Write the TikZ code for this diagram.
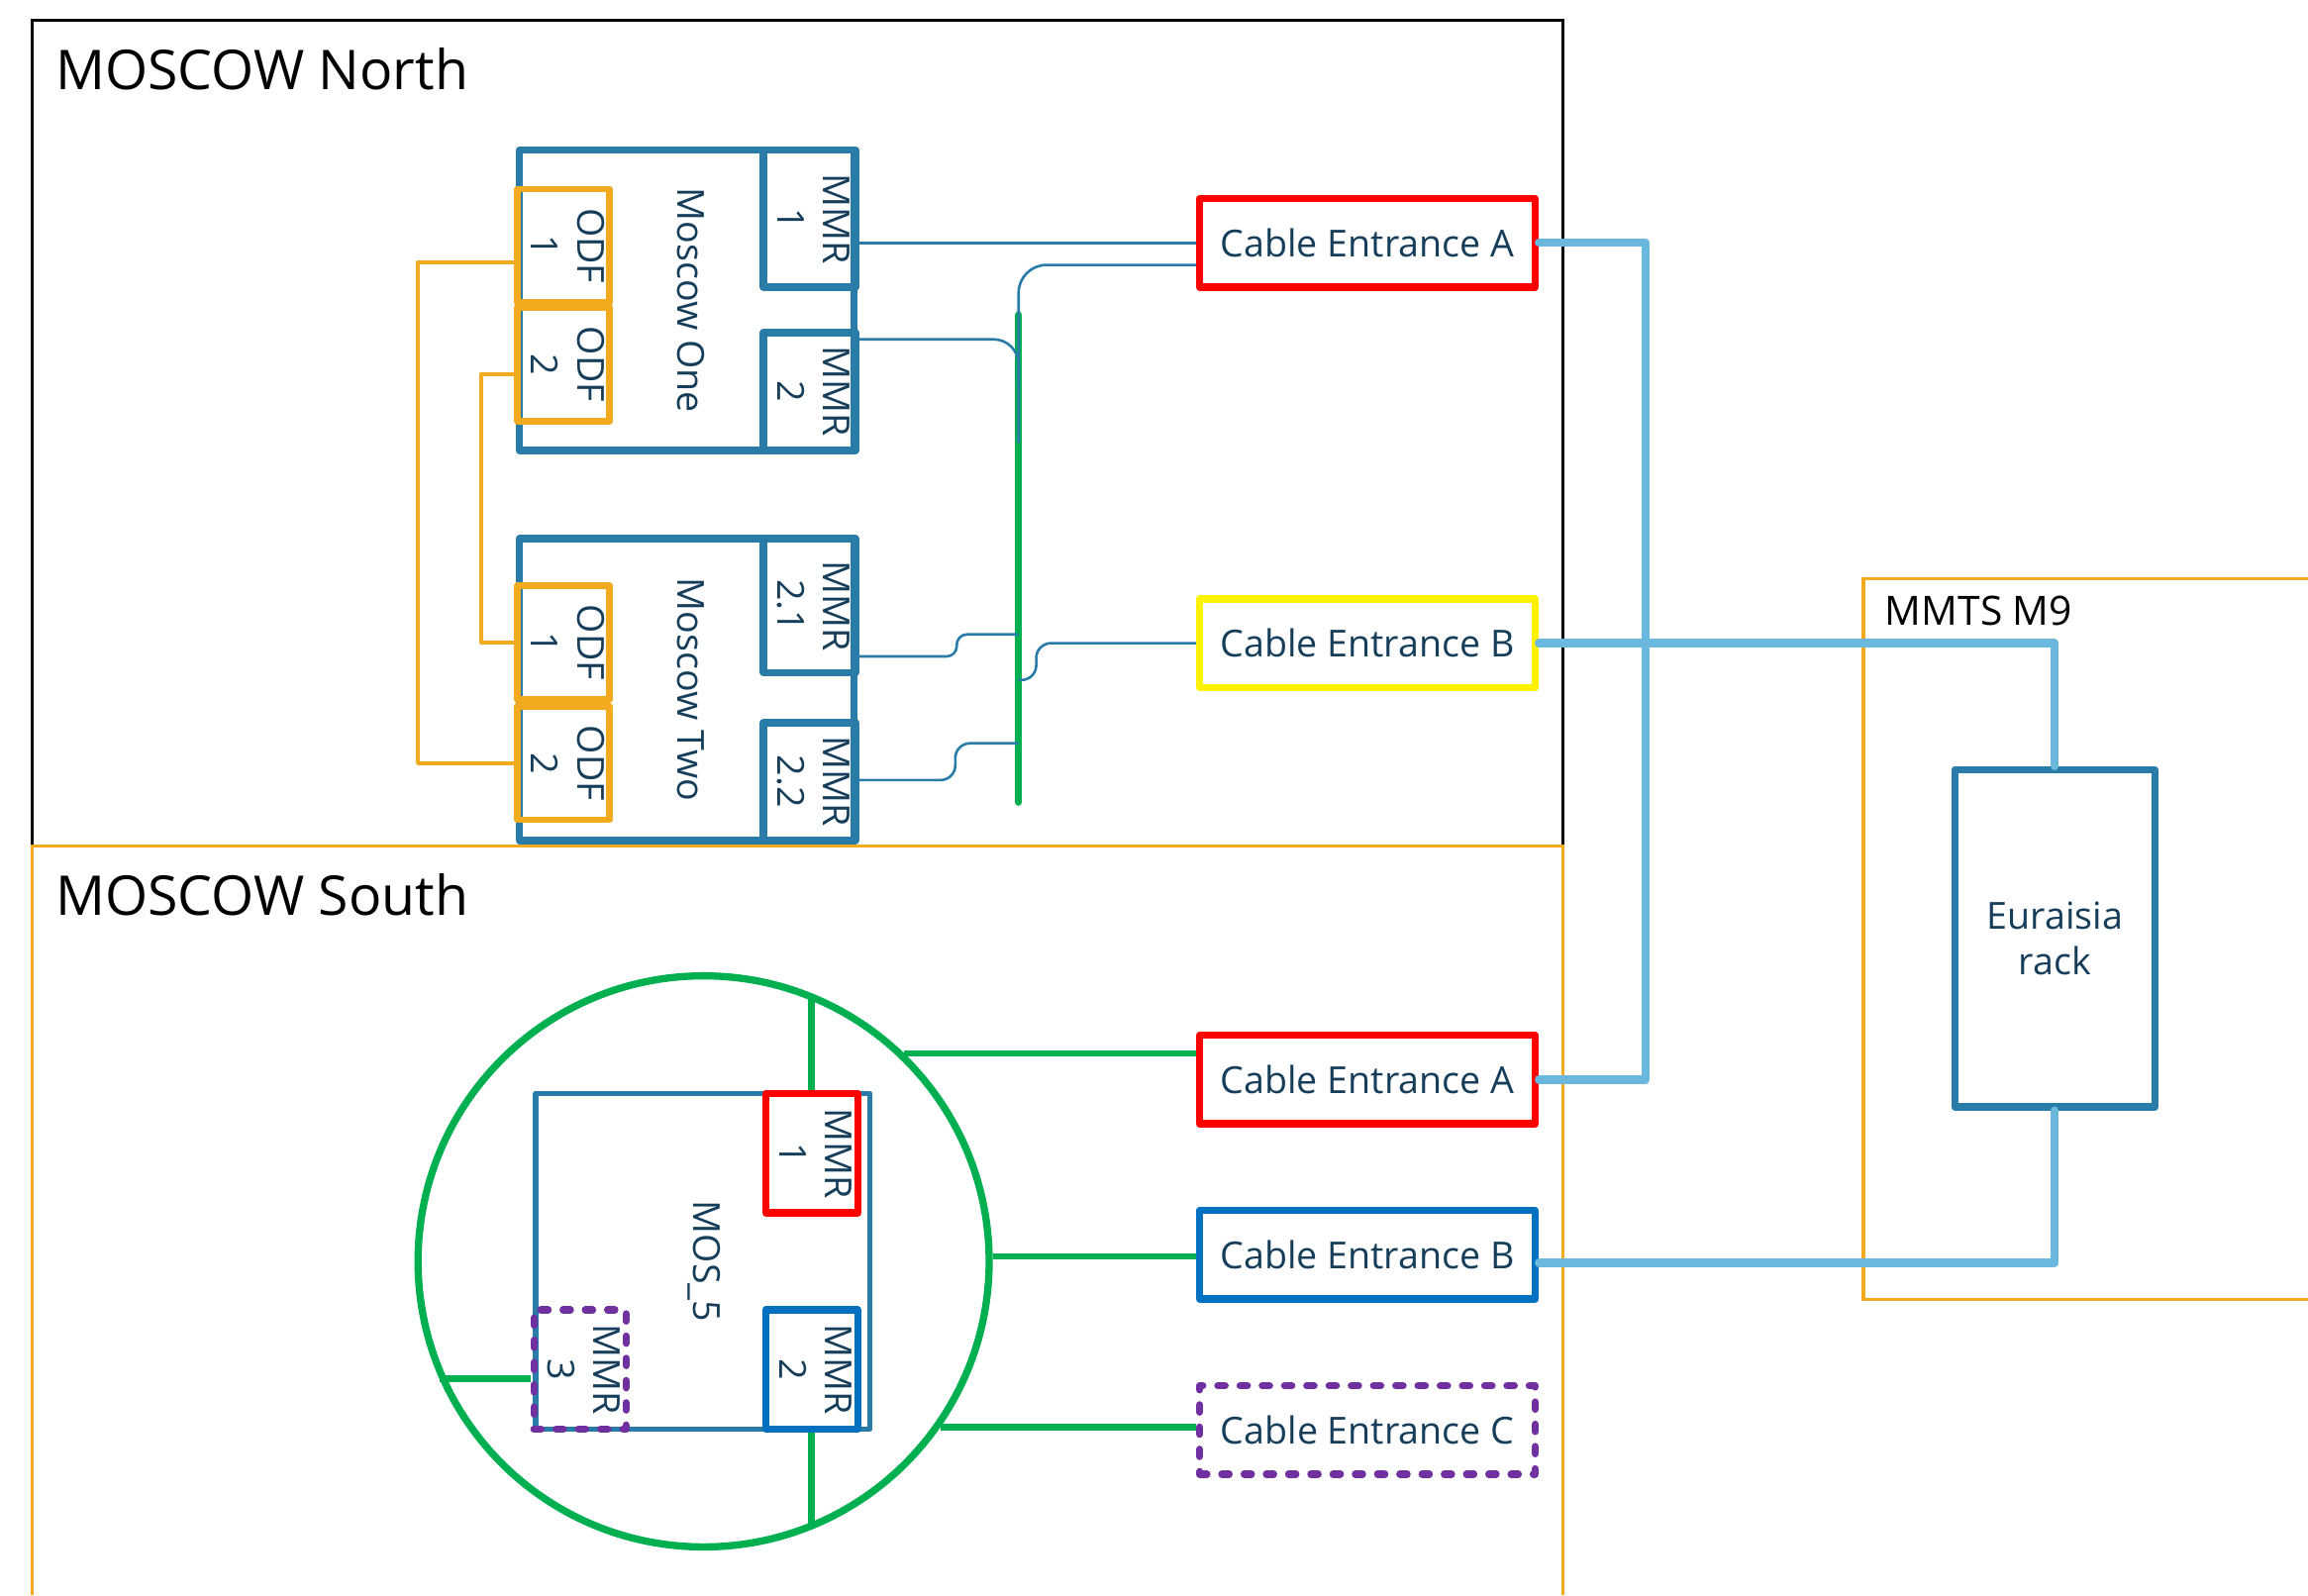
\documentclass[tikz,border=0pt]{standalone}
\usepackage{fontspec}
\setmainfont{Open Sans}
\usepackage{graphicx}
\usetikzlibrary{positioning, calc}

\definecolor{rackblue}{HTML}{2A7CA8}
\definecolor{ink}{HTML}{163E5A}
\definecolor{odforange}{HTML}{F2AB1E}
\definecolor{busgreen}{HTML}{00B050}
\definecolor{fibreblue}{HTML}{6BB8DE}
\definecolor{entblue}{HTML}{0070C0}
\definecolor{entpurple}{HTML}{7030A0}

\newcommand{\rotlabel}[1]{\rotatebox{-90}{\begin{tabular}{@{}c@{}}#1\end{tabular}}}

\begin{document}
\begin{tikzpicture}[x=0.1mm, y=-0.1mm,
    every node/.style={font=\fontsize{7.2}{8.9}\selectfont, text=ink, inner sep=0pt},
    title/.style={font=\fontsize{10.6}{12}\selectfont, text=black, anchor=west},
    cab/.style={draw=rackblue, line width=1.4pt, line join=round},
    odf/.style={draw=odforange, line width=1.3pt, line join=round, minimum width=6mm, minimum height=7.7mm},
    entrance/.style={line width=1.4pt, line join=round, minimum width=22.8mm, minimum height=6mm},
    planned/.style={dash pattern=on 1.4pt off 2.9pt, line cap=round},
    patch/.style={draw=rackblue, line width=0.5pt},
    jumper/.style={draw=odforange, line width=0.8pt, line join=round},
    fibre/.style={draw=fibreblue, line width=1.6pt, line cap=round, line join=round},
    link/.style={draw=busgreen, line width=1.3pt}]
  \useasboundingbox (0,0) rectangle (1568,1084);

  % sites
  \draw[black, line width=0.6pt] (22,14) rectangle (1062,575);
  \draw[odforange, line width=0.6pt] (22,1084) -- (22,575) -- (1062,575) -- (1062,1084);
  \draw[odforange, line width=0.6pt] (1568,393) -- (1266,393) -- (1266,883) -- (1568,883);
  \node[title] (north) at (37,47) {MOSCOW North};
  \node[title] (south) at (37,608) {MOSCOW South};
  \node[title, font=\fontsize{7.8}{9}\selectfont] (mmts) at (1280,415) {MMTS M9};

  % Moscow One
  \node[cab, minimum width=22.7mm, minimum height=20.4mm] (one) at (466.5,204) {\rotlabel{Moscow One}};
  \node[cab, minimum width=6mm, minimum height=9.3mm] (mmrA) at (550,148.5) {\rotlabel{MMR\\1}};
  \node[cab, minimum width=6mm, minimum height=8mm] (mmrB) at (550,266) {\rotlabel{MMR\\2}};
  \node[odf] (odfA) at (383,167) {\rotlabel{ODF\\1}};
  \node[odf] (odfB) at (383,247.5) {\rotlabel{ODF\\2}};

  % Moscow Two
  \node[cab, minimum width=22.7mm, minimum height=20.5mm] (two) at (466.5,468.5) {\rotlabel{Moscow Two}};
  \node[cab, minimum width=6mm, minimum height=9.1mm] (mmrC) at (550,411.5) {\rotlabel{MMR\\2.1}};
  \node[cab, minimum width=6mm, minimum height=8mm] (mmrD) at (550,531) {\rotlabel{MMR\\2.2}};
  \node[odf] (odfC) at (383,436.5) {\rotlabel{ODF\\1}};
  \node[odf] (odfD) at (383,518.5) {\rotlabel{ODF\\2}};

  \node[entrance, draw=red] (ceA) at (929,165) {Cable Entrance A};
  \node[entrance, draw=yellow] (ceB) at (929,437) {Cable Entrance B};

  % bus
  \coordinate (busT) at (692,214);
  \coordinate (busB) at (692,545);
  \draw[busgreen, line width=1.4pt, line cap=round] (busT) -- (busB);

  \draw[patch] (ceA.west) -- (ceA.west -| mmrA.east);
  \draw[patch, rounded corners=1.9mm] ([yshift=-1.5mm]ceA.west) -| ($(busT)+(0,87)$);
  \draw[patch, rounded corners=1.7mm] ([yshift=-0.7mm]mmrB.north east) -| ($(busT)+(0,46)$);
  \draw[patch, rounded corners=0.7mm] (mmrC.east |- 0,446) -- (650,446) -- (650,431) -- (busT |- 0,431);
  \draw[patch, rounded corners=1mm] (mmrD.east |- 0,530) -- (649,530) -- (649,505) -- (busT |- 0,505);
  \draw[patch, rounded corners=1mm] (busT |- 0,462) -- (704,462) -- (704,437) -- (ceB.west);

  \draw[jumper] (odfA.west |- 0,178) -- (284,178) |- (odfD.west);
  \draw[jumper] (odfB.west |- 0,254) -- (327,254) |- (odfC.west);

  \node[cab, minimum width=13.6mm, minimum height=22.9mm, align=center] (eurack) at (1396,637.5) {Euraisia\\rack};

  % MOS_5
  \node[draw=busgreen, line width=1.4pt, circle, minimum size=38.8mm] (ring) at (478,857) {};
  \node[cab, line width=1.1pt, minimum width=22.7mm, minimum height=22.8mm] (mos) at (477.5,857) {\rotlabel{MOS\_5}};
  \node[cab, draw=red, minimum width=5.9mm, minimum height=8.1mm] (mosA) at (551.5,783.5) {\rotlabel{MMR\\1}};
  \node[cab, draw=entblue, minimum width=5.9mm, minimum height=8.1mm] (mosB) at (551.5,930.5) {\rotlabel{MMR\\2}};
  \node[cab, draw=entpurple, planned, minimum width=6mm, minimum height=8.1mm] (mosC) at (394,930.5) {\rotlabel{MMR\\3}};

  \node[entrance, draw=red] (ceAS) at (929,733.5) {Cable Entrance A};
  \node[entrance, draw=entblue] (ceBS) at (929,852.5) {Cable Entrance B};
  \node[entrance, draw=entpurple, planned] (ceC) at (929,971.5) {Cable Entrance C};

  \draw[link] (mosA.north |- ring.67.5) -- (mosA.north);
  \draw[link] (mosB.south) -- (mosB.south |- ring.-67.5);
  \draw[link] (ring.204.4) -- (ring.204.4 -| mosC.west);
  \draw[link] (ring.46.2) -- (ring.46.2 -| ceAS.west);
  \draw[link] (ring.1.8) -- (ring.1.8 -| ceBS.west);
  \draw[link] (ring.-35.4) -- (ring.-35.4 -| ceC.west);

  % fibre to M9
  \draw[fibre] (ceA.east) -- (1118,165) |- (ceAS.east);
  \draw[fibre] (ceB.east) -| (eurack.north);
  \draw[fibre] (ceBS.east |- 0,858) -| (eurack.south);
\end{tikzpicture}
\end{document}
